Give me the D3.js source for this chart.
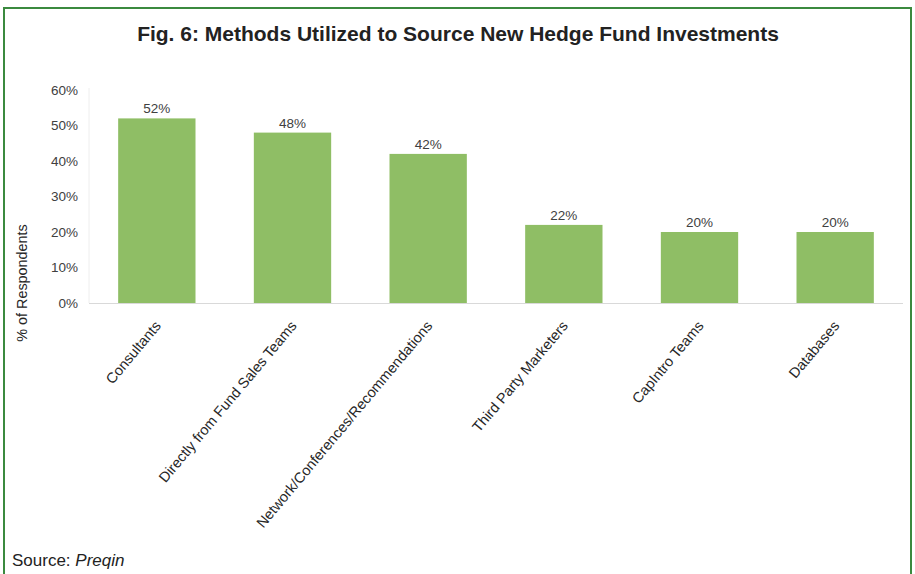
<!DOCTYPE html>
<html>
<head>
<meta charset="utf-8">
<script src="https://cdn.jsdelivr.net/npm/d3@7"></script>
<style>
  html, body { margin: 0; padding: 0; background: #fff; }
  svg { display: block; font-family: Arial, "Liberation Sans", sans-serif; }
</style>
</head>
<body>
<svg id="chart" width="915" height="574"></svg>
<script>
const categories = ["Consultants", "Directly from Fund Sales Teams", "Network/Conferences/Recommendations", "Third Party Marketers", "CapIntro Teams", "Databases"];
const values = [52, 48, 42, 22, 20, 20];
const yTicks = [0, 10, 20, 30, 40, 50, 60];
const titleText = "Fig. 6: Methods Utilized to Source New Hedge Fund Investments";
const yTitle = "% of Respondents";

const svg = d3.select("#chart");
const W = 915, H = 574;

// frame
svg.append("path")
  .attr("d", `M4,${H} L4,8 L911,8 L911,${H}`)
  .attr("fill", "none").attr("stroke", "#3b8a3f").attr("stroke-width", 2);

svg.append("text").attr("x", 458).attr("y", 41).attr("text-anchor", "middle")
  .attr("font-size", 21).attr("font-weight", "bold").attr("fill", "#222")
  .text(titleText);

const m = { left: 89, right: 903, top: 90, bottom: 303 };
const x = d3.scaleBand().domain(categories).range([m.left, m.right]).paddingInner(0.43).paddingOuter(0.215);
const y = d3.scaleLinear().domain([0, 60]).range([m.bottom, m.top]);

// faint left axis line
svg.append("line").attr("x1", m.left).attr("x2", m.left).attr("y1", m.top - 2).attr("y2", m.bottom)
  .attr("stroke", "#eeeeee").attr("stroke-width", 1);

// y axis labels
const yAxis = d3.axisLeft(y).tickValues(yTicks).tickFormat(d => d + "%").tickSize(0).tickPadding(11);
const ga = svg.append("g").attr("transform", `translate(${m.left},0)`).call(yAxis);
ga.select(".domain").remove();
ga.selectAll("text").attr("font-size", 13.5).attr("fill", "#404040").attr("font-family", "Arial, 'Liberation Sans', sans-serif");

// bars
svg.selectAll("rect.bar").data(values).enter().append("rect").attr("class", "bar")
  .attr("x", (d, i) => x(categories[i]))
  .attr("width", x.bandwidth())
  .attr("y", d => y(d))
  .attr("height", d => y(0) - y(d))
  .attr("fill", "#8fbe65");

// baseline
svg.append("line").attr("x1", m.left).attr("x2", m.right).attr("y1", m.bottom + 0.5).attr("y2", m.bottom + 0.5)
  .attr("stroke", "#d9d9d9").attr("stroke-width", 1);

// value labels
svg.selectAll("text.val").data(values).enter().append("text").attr("class", "val")
  .attr("x", (d, i) => x(categories[i]) + x.bandwidth() / 2)
  .attr("y", d => y(d) - 5)
  .attr("text-anchor", "middle").attr("font-size", 13.5).attr("fill", "#404040")
  .text(d => d + "%");

// x category labels
const xAxis = d3.axisBottom(x).tickSize(0).tickPadding(0);
const gx = svg.append("g").attr("transform", `translate(0,${m.bottom})`).call(xAxis);
gx.select(".domain").remove();
gx.selectAll("text")
  .attr("font-size", 14.5).attr("fill", "#262626").attr("font-family", "Arial, 'Liberation Sans', sans-serif")
  .attr("text-anchor", "end").attr("dy", "0.35em").attr("y", 0)
  .attr("transform", "translate(1,20) rotate(-50)");

// y title
svg.append("text").attr("transform", "translate(27,283) rotate(-90)")
  .attr("text-anchor", "middle").attr("font-size", 14.4).attr("fill", "#262626").text(yTitle);

// source
const src = svg.append("text").attr("x", 12).attr("y", 566).attr("font-size", 17).attr("fill", "#222");
src.append("tspan").text("Source: ");
src.append("tspan").attr("font-style", "italic").text("Preqin");
</script>
</body>
</html>
